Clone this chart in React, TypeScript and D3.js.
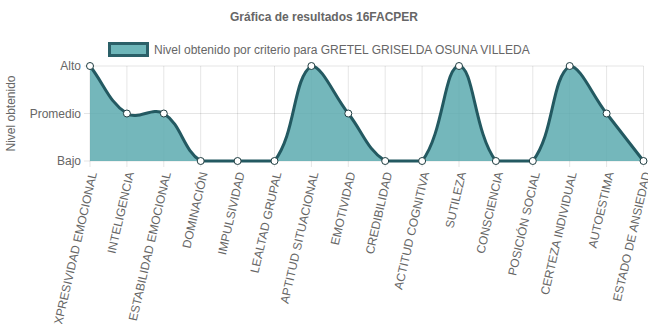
import React from "react";
import * as d3 from "d3";

const categories = [
  "EXPRESIVIDAD EMOCIONAL", "INTELIGENCIA", "ESTABILIDAD EMOCIONAL", "DOMINACIÓN",
  "IMPULSIVIDAD", "LEALTAD GRUPAL", "APTITUD SITUACIONAL", "EMOTIVIDAD",
  "CREDIBILIDAD", "ACTITUD COGNITIVA", "SUTILEZA", "CONSCIENCIA",
  "POSICIÓN SOCIAL", "CERTEZA INDIVIDUAL", "AUTOESTIMA", "ESTADO DE ANSIEDAD",
];
const values = [2, 1, 1, 0, 0, 0, 2, 1, 0, 0, 2, 0, 0, 2, 1, 0];
const levelLabels = ["Bajo", "Promedio", "Alto"];
const levelValues = [0, 1, 2];
const title = "Gráfica de resultados 16FACPER";
const seriesLabel = "Nivel obtenido por criterio para GRETEL GRISELDA OSUNA VILLEDA";
const yTitle = "Nivel obtenido";

const W = 648, H = 324;
const left = 90, right = 643.5, top = 66, bottom = 161;
const FILL = "rgba(92,170,175,0.85)";
const LINE = "#235961";
const FONT = "'Liberation Sans', Arial, Helvetica, sans-serif";
const GRID = "rgba(0,0,0,0.1)";

function chartJsPath(pts: [number, number][], closeTo?: number) {
  const t = 0.4;
  const cps: { p: [number, number]; n: [number, number] }[] = pts.map((c, i) => {
    const p = pts[i - 1] || c;
    const n = pts[i + 1] || c;
    const d01 = Math.hypot(c[0] - p[0], c[1] - p[1]);
    const d12 = Math.hypot(n[0] - c[0], n[1] - c[1]);
    let s01 = d01 / (d01 + d12 || 1);
    let s12 = d12 / (d01 + d12 || 1);
    s01 = isNaN(s01) ? 0 : s01;
    s12 = isNaN(s12) ? 0 : s12;
    const fa = t * s01, fb = t * s12;
    const clampY = (y: number) => Math.max(top, Math.min(bottom, y));
    const clampX = (x: number) => Math.max(left, Math.min(right, x));
    return {
      p: [clampX(c[0] - fa * (n[0] - p[0])), clampY(c[1] - fa * (n[1] - p[1]))],
      n: [clampX(c[0] + fb * (n[0] - p[0])), clampY(c[1] + fb * (n[1] - p[1]))],
    };
  });
  const path = d3.path();
  path.moveTo(pts[0][0], pts[0][1]);
  for (let i = 1; i < pts.length; i++) {
    const a = cps[i - 1].n, b = cps[i].p;
    path.bezierCurveTo(a[0], a[1], b[0], b[1], pts[i][0], pts[i][1]);
  }
  if (closeTo !== undefined) {
    path.lineTo(pts[pts.length - 1][0], closeTo);
    path.lineTo(pts[0][0], closeTo);
    path.closePath();
  }
  return path.toString();
}

export default function App() {
  const x = d3.scalePoint<string>().domain(categories).range([left, right]);
  const y = d3.scaleLinear().domain([0, 2]).range([bottom, top]);
  const pts: [number, number][] = categories.map((c, i) => [x(c)!, y(values[i])]);
  const line = chartJsPath(pts);
  const area = chartJsPath(pts, y(0));

  return (
    <svg width={W} height={H} style={{ position: "absolute", left: 0, top: 0 }} fontFamily={FONT}>
      <text x={324} y={21} textAnchor="middle" fontSize={12} fontWeight="bold" fill="#666">{title}</text>
      <rect x={109.5} y={43.5} width={38} height={12} fill="rgba(110,182,185,1)" stroke="#2b6068" strokeWidth={3} />
      <text x={154} y={54} fontSize={12} fill="#666">{seriesLabel}</text>

      {categories.map((c) => (
        <line key={c} x1={x(c)} x2={x(c)} y1={top} y2={bottom + 6} stroke={GRID} strokeWidth={1} />
      ))}
      {levelValues.map((v) => (
        <line key={v} x1={left - 6} x2={right} y1={y(v)} y2={y(v)} stroke={GRID} strokeWidth={1} />
      ))}
      {levelValues.map((v, i) => (
        <text key={v} x={left - 9} y={y(v)} dy="0.35em" textAnchor="end" fontSize={12} fill="#666">{levelLabels[i]}</text>
      ))}
      <text transform={`translate(15,${(top + bottom) / 2}) rotate(-90)`} textAnchor="middle" fontSize={12} fill="#666">{yTitle}</text>

      <path d={area} fill={FILL} stroke="none" />
      <path d={line} fill="none" stroke={LINE} strokeWidth={3} />
      {pts.map((p, i) => (
        <circle key={i} cx={p[0]} cy={p[1]} r={3.5} fill="#fff" stroke="#1e3c40" strokeWidth={1} />
      ))}

      {categories.map((c) => (
        <text key={c} transform={`translate(${x(c)! + 3},${bottom + 11}) rotate(-77)`} dy="0.35em" textAnchor="end" fontSize={12} fill="#666">{c}</text>
      ))}
    </svg>
  );
}
